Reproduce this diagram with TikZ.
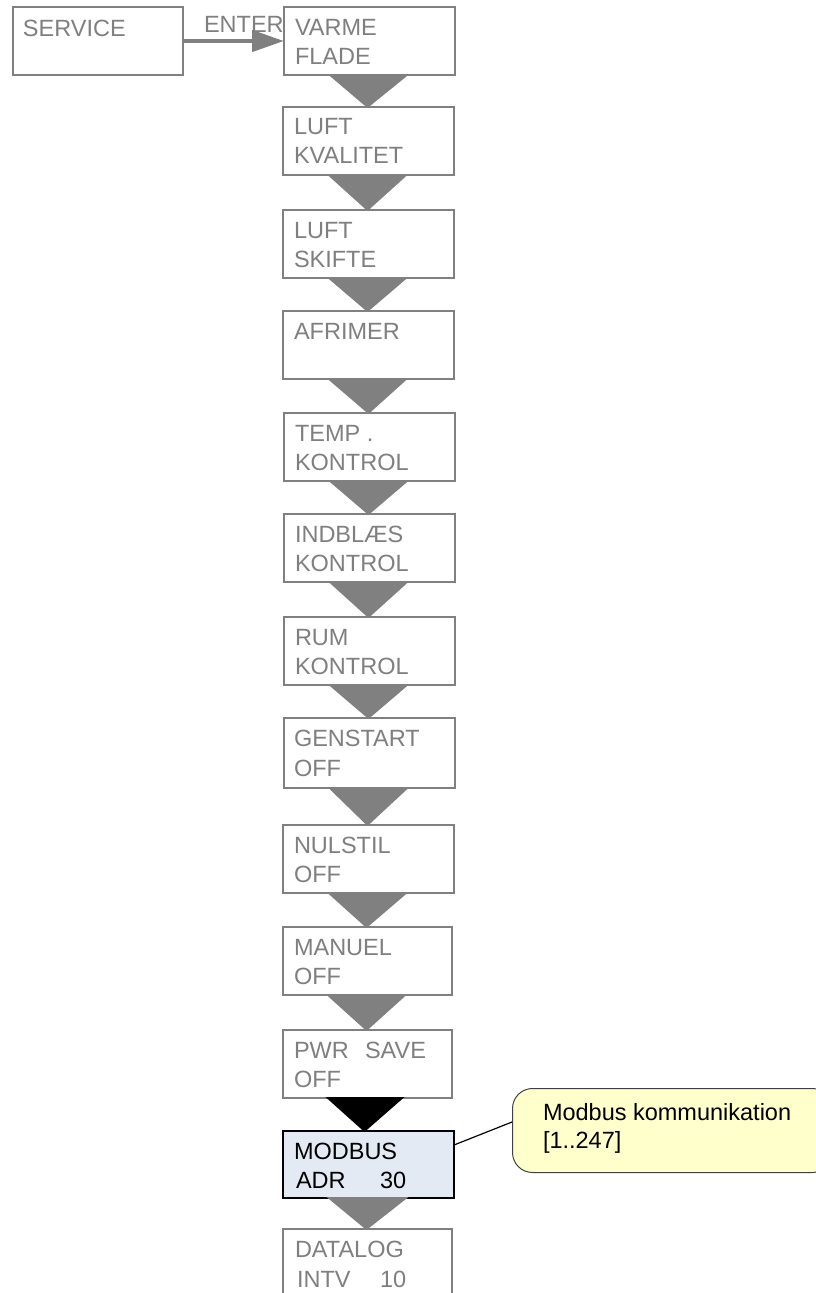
\documentclass[tikz,border=0pt]{standalone}
\usepackage{fontspec}
\setmainfont{Liberation Sans}
\usetikzlibrary{arrows.meta,calc}
\definecolor{gtxt}{HTML}{7F7F7F}
\definecolor{gline}{HTML}{808080}
\definecolor{modfill}{HTML}{E4EAF4}
\definecolor{callfill}{HTML}{FFFFCC}
\tikzset{
  box/.style={draw=gline, line width=2.4pt, fill=white, minimum width=171pt, minimum height=68pt, anchor=north west, inner sep=0pt, outer sep=0pt},
  modbox/.style={box, draw=black, fill=modfill, line width=2.6pt},
  txt/.style={anchor=base west, inner sep=0pt, outer sep=0pt, text=gtxt, font=\fontsize{23.5}{28}\selectfont},
  btxt/.style={txt, text=black},
  tri/.style={fill=gline, draw=none},
  btri/.style={fill=black, draw=none},
  callout/.style={draw=black!75, line width=1pt, fill=callfill, rounded corners=20pt, anchor=north west, minimum width=320pt, minimum height=84pt, inner sep=0pt},
}
\begin{document}
\begin{tikzpicture}[x=1pt,y=-1pt]
\useasboundingbox (0,0) rectangle (816,1293);
\clip (0,0) rectangle (816,1293);
% SERVICE
\node[box, minimum width=170pt] (srv) at (13,7) {};
\node[txt] (srvt) at (23,36) {SERVICE};
% column boxes
\node[box] (b1) at (284,7) {};
\node[box] (b2) at (283,107) {};
\node[box] (b3) at (283,210) {};
\node[box] (b4) at (283,311) {};
\node[box] (b5) at (284,413) {};
\node[box] (b6) at (284,514) {};
\node[box] (b7) at (284,617) {};
\node[box, minimum height=70pt] (b8) at (284,718) {};
\node[box] (b9) at (283,825) {};
\node[box, minimum width=169pt] (b10) at (283,927) {};
\node[box, minimum width=169pt] (b11) at (283,1030) {};
\node[modbox, minimum height=67pt] (b12) at (283,1131) {};
\node[box, minimum width=169pt, minimum height=90pt] (b13) at (283,1229) {};
% triangles
\foreach \a/\b in {b1/b2,b2/b3,b3/b4,b4/b5,b5/b6,b6/b7,b7/b8,b8/b9,b9/b10,b10/b11,b12/b13}{
  \fill[tri] ($(\a.south)+(-42,-1)$) -- ($(\a.south)+(40,-1)$) -- ($(\b.north)+(-1,1)$) -- cycle;
}
\fill[btri] ($(b11.south)+(-42,-1)$) -- ($(b11.south)+(37,-1)$) -- ($(b12.north)+(-4,1)$) -- cycle;
% ENTER arrow
\draw[gline, line width=4.5pt, -{Triangle[length=32pt,width=21pt]}] (srv.east) -- (b1.west |- srv.east);
\node[txt] (enter) at (204,32) {ENTER};
% texts
\node[txt] (t1a) at (295,35) {VARME};
\node[txt] (t1b) at (295,64) {FLADE};
\node[txt] (t2a) at (294,134.5) {LUFT};
\node[txt] (t2b) at (294,163.5) {KVALITET};
\node[txt] (t3a) at (294,238) {LUFT};
\node[txt] (t3b) at (294,267) {SKIFTE};
\node[txt] (t4a) at (294,339) {AFRIMER};
\node[txt] (t5a) at (295,441) {TEMP .};
\node[txt] (t5b) at (295,470) {KONTROL};
\node[txt] (t6a) at (295,542) {INDBLÆS};
\node[txt] (t6b) at (295,571) {KONTROL};
\node[txt] (t7a) at (295,645) {RUM};
\node[txt] (t7b) at (295,674) {KONTROL};
\node[txt] (t8a) at (294,746) {GENSTART};
\node[txt] (t8b) at (294,776) {OFF};
\node[txt] (t9a) at (294,853) {NULSTIL};
\node[txt] (t9b) at (294,882) {OFF};
\node[txt] (t10a) at (294,955) {MANUEL};
\node[txt] (t10b) at (294,984) {OFF};
\node[txt] (t11a) at (294,1058) {PWR};
\node[txt] (t11c) at (365,1058) {SAVE};
\node[txt] (t11b) at (294,1087) {OFF};
\node[btxt] (t12a) at (294,1159) {MODBUS};
\node[btxt] (t12b) at (296,1188) {ADR};
\node[btxt] (t12c) at (380,1188) {30};
\node[txt] (t13a) at (295,1257) {DATALOG};
\node[txt] (t13b) at (297,1287) {INTV};
\node[txt] (t13c) at (380,1287) {10};
% callout
\node[callout] (co) at (512,1088) {};
\coordinate (cop) at ($(co.north west)+(0,34)$);
\draw[black, line width=1.2pt] (b12.east |- 0,1145) -- (cop);
\node[btxt] (cot1) at (543,1120) {Modbus kommunikation};
\node[btxt] (cot2) at (543,1148) {[1..247]};
\end{tikzpicture}
\end{document}
